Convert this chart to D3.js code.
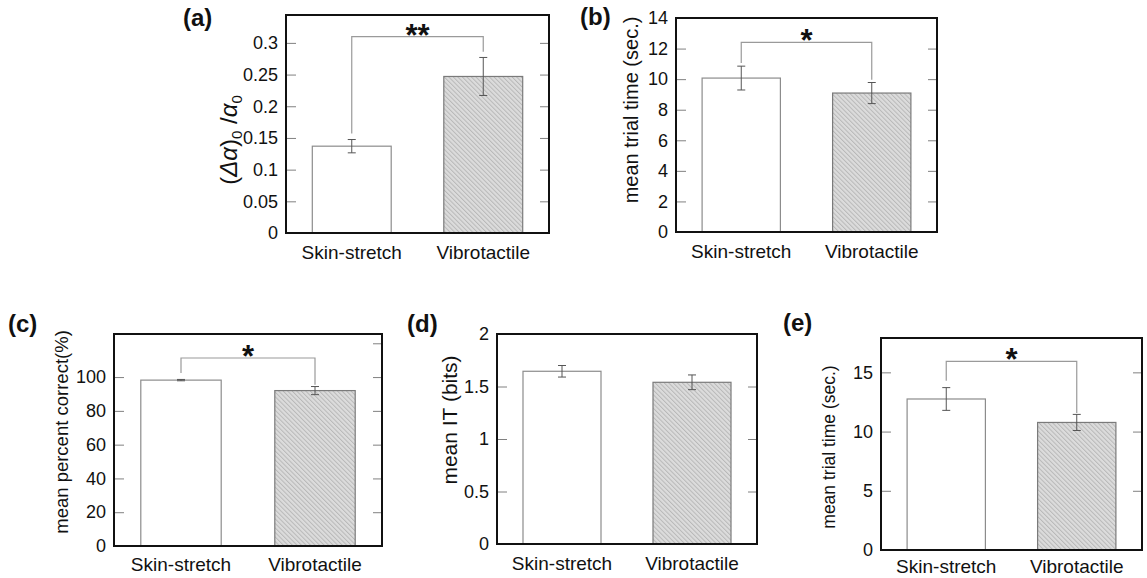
<!DOCTYPE html>
<html>
<head>
<meta charset="utf-8">
<script src="https://cdn.jsdelivr.net/npm/d3@7"></script>
<style>
  body { margin: 0; background: #fff; }
  svg { display: block; font-family: "Liberation Sans", Arial, sans-serif; }
</style>
</head>
<body>
<div id="fig"></div>
<script>
(function(){

/* ---------------- data ---------------- */
const categories = ["Skin-stretch", "Vibrotactile"];

// (a) (Δα)0/α0
const aMean = [0.137, 0.247];
const aErr  = [0.0105, 0.030];
const aTicks = [0, 0.05, 0.1, 0.15, 0.2, 0.25, 0.3];
const aTickLabels = ["0", "0.05", "0.1", "0.15", "0.2", "0.25", "0.3"];
const aSig = ["**"], aSigY = [0.31], aSigLegs = [0.157, 0.286];

// (b) mean trial time
const bMean = [10.07, 9.09];
const bErr  = [0.78, 0.69];
const bTicks = [0, 2, 4, 6, 8, 10, 12, 14];
const bTickLabels = ["0", "2", "4", "6", "8", "10", "12", "14"];
const bSig = ["*"], bSigY = [12.4], bSigLegs = [11.05, 9.96];

// (c) mean percent correct
const cMean = [98.2, 92.0];
const cErr  = [0.4, 2.4];
const cTicks = [0, 20, 40, 60, 80, 100];
const cTickLabels = ["0", "20", "40", "60", "80", "100"];
const cRightTicks = [0, 20, 40, 60, 80, 100, 120];
const cSig = ["*"], cSigY = [111.3], cSigLegs = [102.4, 95.4];

// (d) mean IT
const dMean = [1.645, 1.54];
const dErr  = [0.055, 0.07];
const dTicks = [0, 0.5, 1, 1.5, 2];
const dTickLabels = ["0", "0.5", "1", "1.5", "2"];

// (e) mean trial time
const eMean = [12.75, 10.77];
const eErr  = [0.96, 0.68];
const eTicks = [0, 5, 10, 15];
const eTickLabels = ["0", "5", "10", "15"];
const eSig = ["*"], eSigY = [15.93], eSigLegs = [14.3, 11.56];

/* ---------------- layout ---------------- */
const panels = [
  {letter:"(a)", lx:183, ly:26, box:{l:286,r:549,t:15,b:233}, yMax:0.344, xpad:13,
   mean:aMean, err:aErr, ticks:aTicks, labels:aTickLabels, rticks:aTicks,
   sig:aSig, sigY:aSigY, legs:aSigLegs, ylab:{x:229, y:140, size:24, alpha:true}},
  {letter:"(b)", lx:580, ly:25, box:{l:676,r:937,t:18,b:232}, yMax:14, xpad:13,
   mean:bMean, err:bErr, ticks:bTicks, labels:bTickLabels, rticks:bTicks,
   sig:bSig, sigY:bSigY, legs:bSigLegs, ylab:{x:631, y:110, size:20, text:"mean trial time (sec.)"}},
  {letter:"(c)", lx:8, ly:332, box:{l:114,r:382,t:334,b:546}, yMax:125.5, xpad:12,
   mean:cMean, err:cErr, ticks:cTicks, labels:cTickLabels, rticks:cRightTicks,
   sig:cSig, sigY:cSigY, legs:cSigLegs, ylab:{x:62, y:432, size:18.5, text:"mean percent correct(%)"}},
  {letter:"(d)", lx:407, ly:332, box:{l:497,r:757,t:334,b:544}, yMax:2, xpad:13,
   mean:dMean, err:dErr, ticks:dTicks, labels:dTickLabels, rticks:dTicks,
   sig:[], sigY:[], legs:[], ylab:{x:450, y:420, size:21, text:"mean IT (bits)"}},
  {letter:"(e)", lx:783, ly:331, box:{l:881,r:1142,t:338,b:550}, yMax:17.9, xpad:10,
   mean:eMean, err:eErr, ticks:eTicks, labels:eTickLabels, rticks:eTicks,
   sig:eSig, sigY:eSigY, legs:eSigLegs, ylab:{x:829, y:447, size:17.5, text:"mean trial time (sec.)"}}
];

const W = 1147, H = 578;
const svg = d3.select("#fig").append("svg").attr("width", W).attr("height", H);
svg.append("rect").attr("width", W).attr("height", H).attr("fill", "#fff");

// hatch for the vibrotactile bars
const pat = svg.append("defs").append("pattern")
  .attr("id", "hatch").attr("patternUnits", "userSpaceOnUse")
  .attr("width", 3.2).attr("height", 3.2)
  .attr("patternTransform", "rotate(-45)");
pat.append("rect").attr("width", 3.2).attr("height", 3.2).attr("fill", "#dcdcdc");
pat.append("line").attr("x1", 0.5).attr("y1", 0).attr("x2", 0.5).attr("y2", 3.2)
  .attr("stroke", "#b8b8b8").attr("stroke-width", 1);

function styleAxis(a, size){
  a.attr("font-family", null).attr("font-size", null);
  a.select(".domain").remove();
  a.selectAll("line").attr("stroke", "#808080");
  a.selectAll("text").attr("font-size", size).attr("fill", "#111");
}

panels.forEach(p => {
  const g = svg.append("g");
  const bx = p.box;

  const x = d3.scaleBand().domain(categories).range([bx.l, bx.r])
    .paddingInner(0.4).paddingOuter(0.2);
  const y = d3.scaleLinear().domain([0, p.yMax]).range([bx.b, bx.t]);

  // left axis, inward ticks
  g.append("g").attr("transform", `translate(${bx.l},0)`)
    .call(d3.axisLeft(y).tickValues(p.ticks).tickFormat((d, i) => p.labels[i])
      .tickSizeInner(-10).tickSizeOuter(0).tickPadding(8))
    .call(a => styleAxis(a, 18));

  // right axis, ticks only
  g.append("g").attr("transform", `translate(${bx.r},0)`)
    .call(d3.axisRight(y).tickValues(p.rticks).tickFormat("")
      .tickSizeInner(-9).tickSizeOuter(0))
    .call(a => styleAxis(a, 18));

  // category labels
  g.append("g").attr("transform", `translate(0,${bx.b})`)
    .call(d3.axisBottom(x).tickSize(0).tickPadding(p.xpad))
    .call(a => styleAxis(a, 19));

  // bars
  g.selectAll("rect.bar").data(p.mean).enter().append("rect")
    .attr("class", "bar")
    .attr("x", (d, i) => x(categories[i]))
    .attr("width", x.bandwidth())
    .attr("y", d => y(d))
    .attr("height", d => y(0) - y(d))
    .attr("fill", (d, i) => i === 0 ? "#fff" : "url(#hatch)")
    .attr("stroke", (d, i) => i === 0 ? "#8c8c8c" : "#7a7a7a")
    .attr("stroke-width", 1.2);

  // error bars
  const eb = g.selectAll("g.err").data(p.mean).enter().append("g").attr("class", "err")
    .attr("stroke", "#555").attr("stroke-width", 1);
  const cx = i => x(categories[i]) + x.bandwidth() / 2;
  eb.append("line")
    .attr("x1", (d, i) => cx(i)).attr("x2", (d, i) => cx(i))
    .attr("y1", (d, i) => y(d - p.err[i])).attr("y2", (d, i) => y(d + p.err[i]));
  eb.append("line")
    .attr("x1", (d, i) => cx(i) - 4).attr("x2", (d, i) => cx(i) + 4)
    .attr("y1", (d, i) => y(d + p.err[i])).attr("y2", (d, i) => y(d + p.err[i]));
  eb.append("line")
    .attr("x1", (d, i) => cx(i) - 4).attr("x2", (d, i) => cx(i) + 4)
    .attr("y1", (d, i) => y(d - p.err[i])).attr("y2", (d, i) => y(d - p.err[i]));

  // significance bracket
  p.sig.forEach((s, k) => {
    const x0 = cx(0), x1 = cx(1), yy = y(p.sigY[k]);
    g.append("path")
      .attr("d", `M${x0},${y(p.legs[0])}V${yy}H${x1}V${y(p.legs[1])}`)
      .attr("fill", "none").attr("stroke", "#9a9a9a").attr("stroke-width", 1.2);
    g.append("text").attr("x", (x0 + x1) / 2).attr("y", yy + 9)
      .attr("text-anchor", "middle").attr("font-size", 31).attr("font-weight", "bold")
      .attr("fill", "#111").text(s);
  });

  // frame
  g.append("rect").attr("x", bx.l).attr("y", bx.t)
    .attr("width", bx.r - bx.l).attr("height", bx.b - bx.t)
    .attr("fill", "none").attr("stroke", "#111").attr("stroke-width", 2);

  // y label
  const yl = g.append("text")
    .attr("transform", `translate(${p.ylab.x},${p.ylab.y}) rotate(-90)`)
    .attr("text-anchor", "middle").attr("dy", "0.35em")
    .attr("font-size", p.ylab.size).attr("fill", "#111");
  if (p.ylab.alpha) {
    yl.append("tspan").text("(");
    yl.append("tspan").attr("font-style", "italic").text("\u0394\u03b1");
    yl.append("tspan").text(")");
    yl.append("tspan").attr("font-size", 15).attr("dy", 5).text("0");
    yl.append("tspan").attr("dy", -5).text(" /");
    yl.append("tspan").attr("font-style", "italic").text("\u03b1");
    yl.append("tspan").attr("font-size", 15).attr("dy", 5).text("0");
  } else {
    yl.text(p.ylab.text);
  }

  // panel letter
  g.append("text").attr("x", p.lx).attr("y", p.ly)
    .attr("font-size", 24).attr("font-weight", "bold").attr("fill", "#111")
    .text(p.letter);
});

})();
</script>
</body>
</html>
